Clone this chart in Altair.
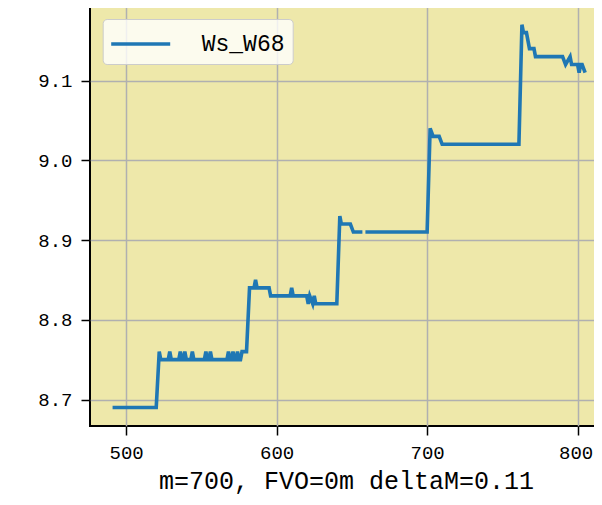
import altair as alt
import pandas as pd

series_name = "Ws_W68"

# segment 1 (before the gap)
m_a = [491, 520, 522, 523,
       528, 529, 530, 535, 536, 537, 538, 539, 540, 543, 544, 545,
       552, 553, 554, 555, 556, 557, 567, 568, 569, 570, 571, 572,
       573, 574, 575, 576, 577, 580,
       582, 585, 586, 587, 595, 596, 609, 610, 611,
       620, 621, 622, 624, 625, 626, 640,
       642, 643, 649, 651, 657]
v_a = [8.69, 8.69, 8.76, 8.75,
       8.75, 8.76, 8.75, 8.75, 8.76, 8.75, 8.75, 8.76, 8.75, 8.75, 8.76, 8.75,
       8.75, 8.76, 8.75, 8.75, 8.76, 8.75, 8.75, 8.76, 8.75, 8.75, 8.76, 8.75,
       8.75, 8.76, 8.75, 8.75, 8.76, 8.76,
       8.84, 8.84, 8.85, 8.84, 8.84, 8.83, 8.83, 8.84, 8.83,
       8.83, 8.82, 8.83, 8.82, 8.83, 8.82, 8.82,
       8.93, 8.92, 8.92, 8.91, 8.91]

# segment 2 (after the gap)
m_b = [659, 700, 702, 704, 708, 710, 761, 763, 764, 766, 768, 771, 772,
       790, 792, 795, 796, 800, 801, 802, 803, 805]
v_b = [8.91, 8.91, 9.04, 9.03, 9.03, 9.02, 9.02, 9.17, 9.16, 9.16, 9.14, 9.14, 9.13,
       9.13, 9.12, 9.13, 9.12, 9.12, 9.11, 9.12, 9.12, 9.11]

x_ticks = [500, 600, 700, 800]
y_ticks = [8.7, 8.8, 8.9, 9.0, 9.1]
x_title = "m=700, FVO=0m deltaM=0.11"

df = pd.concat([
    pd.DataFrame({"m": m_a, "v": v_a, "seg": 0}),
    pd.DataFrame({"m": m_b, "v": v_b, "seg": 1}),
], ignore_index=True)
df["series"] = series_name
df["order"] = range(len(df))

FONT = "Liberation Mono"

chart = alt.Chart(df).mark_line(strokeWidth=3.6, clip=True).encode(
    x=alt.X("m:Q",
            scale=alt.Scale(domain=[476.0, 476.0 + 512 / 1.505], nice=False, zero=False),
            axis=alt.Axis(values=x_ticks, title=x_title, format="d",
                          labelPadding=8, titlePadding=6,
                          labelOffset={"condition": {"test": "datum.value == 800", "value": -2},
                                       "value": 0},
                          titleFontSize=25, titleFont=FONT, titleFontWeight="normal",
                          titleColor="black")),
    y=alt.Y("v:Q",
            scale=alt.Scale(domain=[8.6668, 9.1947], nice=False, zero=False),
            axis=alt.Axis(values=y_ticks, format=".1f", title=None, labelPadding=9)),
    color=alt.Color("series:N",
                    scale=alt.Scale(domain=[series_name], range=["#1f77b4"]),
                    legend=alt.Legend(title=None, orient="none", legendX=12.7, legendY=14,
                                      fillColor="rgba(255,255,255,0.8)", strokeColor="#cccccc",
                                      cornerRadius=4, padding=8,
                                      symbolType="M-2,0H2", symbolSize=870,
                                      symbolOffset=13, symbolStrokeWidth=3.6,
                                      labelFont=FONT, labelFontSize=23, labelColor="black",
                                      labelOffset=44)),
    detail="seg:N",
    order="order:Q",
).properties(
    width=512, height=421,
    autosize=alt.AutoSizeParams(type="none"),
    padding={"left": 82, "top": -3, "right": -8, "bottom": 71},
).configure_view(
    fill="#EEE8AA", stroke="black", strokeWidth=2,
).configure_axis(
    domain=False,
    grid=True, gridColor="#b0b0b0", gridWidth=1.5,
    tickColor="black", tickWidth=1.5, tickSize=9,
    labelFont=FONT, labelFontSize=19, labelColor="black",
)

chart.save("out.html", embed_options={"renderer": "svg", "actions": False})
